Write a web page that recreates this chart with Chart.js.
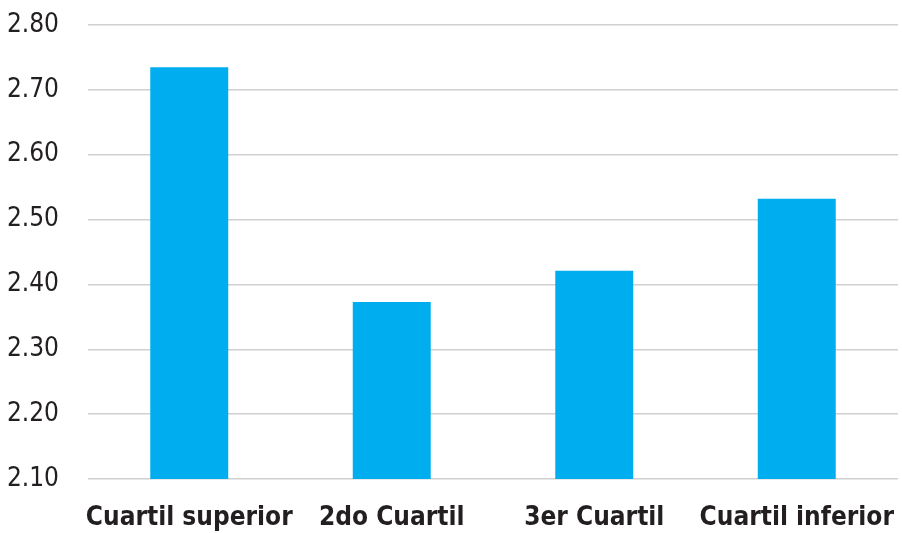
<!DOCTYPE html>
<html>
<head>
<meta charset="utf-8">
<script src="https://cdn.jsdelivr.net/npm/chart.js@4"></script>
<style>
  body { margin: 0; background: #fff; }
  canvas { display: block; }
</style>
</head>
<body>
<canvas id="chart" width="902" height="533"></canvas>
<script>
// datos del gráfico
const categorias = ["Cuartil superior", "2do Cuartil", "3er Cuartil", "Cuartil inferior"];
const valores = [2.735, 2.373, 2.421, 2.532];
const ejeMin = 2.1;
const ejeMax = 2.8;
const paso = 0.1;

const fuente = "'DejaVu Sans Condensed', 'Liberation Sans Narrow', sans-serif";

const ctx = document.getElementById("chart").getContext("2d");
new Chart(ctx, {
    type: "bar",
    data: {
        labels: categorias,
        datasets: [{
            data: valores,
            backgroundColor: "#00adee",
            categoryPercentage: 1,
            barPercentage: 0.385
        }]
    },
    options: {
        responsive: false,
        animation: false,
        devicePixelRatio: 1,
        layout: { padding: { top: 25, left: 8, right: 4, bottom: 0 } },
        plugins: {
            legend: { display: false },
            tooltip: { enabled: false }
        },
        scales: {
            x: {
                grid: { display: false, drawTicks: false },
                border: { display: false },
                ticks: {
                    color: "#231f20",
                    font: { family: fuente, size: 26, weight: "bold" },
                    padding: 24,
                    maxRotation: 0,
                    autoSkip: false
                },
                afterFit: s => {
                    s.height = 54;
                    s.paddingLeft = 0;
                    s.paddingRight = 0;
                }
            },
            y: {
                min: ejeMin,
                max: ejeMax,
                grid: { color: "#d0d0d0", lineWidth: 1.5, drawTicks: false },
                border: { display: false },
                ticks: {
                    stepSize: paso,
                    color: "#231f20",
                    font: { family: fuente, size: 26 },
                    padding: 29,
                    callback: v => v.toFixed(2)
                },
                afterFit: s => {
                    s.width = 80;
                    s.paddingTop = 0;
                    s.paddingBottom = 0;
                }
            }
        }
    }
});
</script>
</body>
</html>
